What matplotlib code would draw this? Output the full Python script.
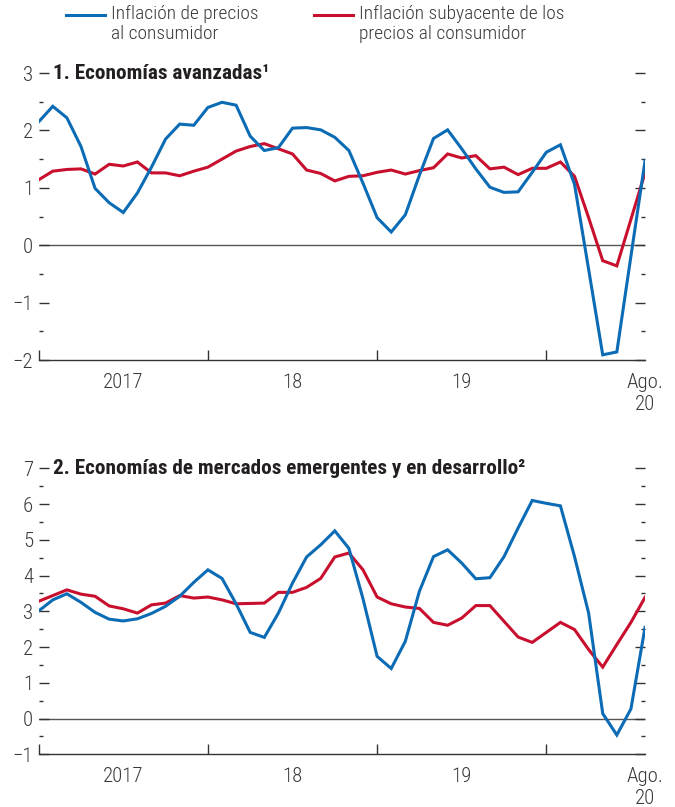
import matplotlib
matplotlib.use("Agg")
import matplotlib.pyplot as plt
from matplotlib.lines import Line2D
import numpy as np
import pandas as pd

plt.rcParams['font.family'] = ['Roboto Condensed', 'Archivo Narrow', 'Liberation Sans', 'DejaVu Sans']

months = pd.period_range('2017-01', '2020-08', freq='M')

# 1. advanced economies
ae_headline = [2.15, 2.42, 2.22, 1.72, 0.99, 0.74, 0.57, 0.91, 1.36, 1.85,
               2.11, 2.09, 2.40, 2.49, 2.44, 1.90, 1.65, 1.70, 2.04, 2.05,
               2.01, 1.88, 1.65, 1.08, 0.48, 0.23, 0.53, 1.22, 1.86, 2.01,
               1.68, 1.33, 1.01, 0.92, 0.93, 1.27, 1.62, 1.75, 1.06, -0.42,
               -1.91, -1.86, -0.19, 1.47]
ae_core = [1.14, 1.29, 1.32, 1.33, 1.24, 1.41, 1.38, 1.45, 1.26, 1.26,
           1.21, 1.29, 1.36, 1.50, 1.64, 1.72, 1.77, 1.68, 1.59, 1.31,
           1.25, 1.12, 1.20, 1.21, 1.27, 1.31, 1.24, 1.30, 1.35, 1.59,
           1.52, 1.56, 1.33, 1.36, 1.23, 1.34, 1.34, 1.45, 1.20, 0.48,
           -0.27, -0.36, 0.45, 1.26]

# 2. emerging market and developing economies
em_headline = [3.01, 3.32, 3.49, 3.25, 2.97, 2.78, 2.73, 2.79, 2.94, 3.14,
               3.42, 3.81, 4.16, 3.92, 3.21, 2.41, 2.27, 2.95, 3.79, 4.52,
               4.86, 5.25, 4.76, 3.35, 1.74, 1.40, 2.16, 3.56, 4.53, 4.72,
               4.35, 3.91, 3.94, 4.53, 5.33, 6.10, 6.02, 5.95, 4.53, 2.95,
               0.14, -0.46, 0.27, 2.55]
em_core = [3.28, 3.44, 3.60, 3.48, 3.42, 3.15, 3.07, 2.95, 3.18, 3.23,
           3.44, 3.37, 3.40, 3.32, 3.21, 3.22, 3.23, 3.53, 3.53, 3.67,
           3.92, 4.52, 4.63, 4.16, 3.40, 3.21, 3.12, 3.08, 2.69, 2.61,
           2.81, 3.16, 3.16, 2.72, 2.28, 2.13, 2.41, 2.69, 2.49, 1.93,
           1.44, 2.07, 2.69, 3.39]

titles = ['1. Economías avanzadas\u00b9',
          '2. Economías de mercados emergentes y en desarrollo\u00b2']
legend_labels = ['Inflación de precios\nal consumidor',
                 'Inflación subyacente de los\nprecios al consumidor']
year_labels = ['2017', '18', '19', 'Ago.\n20']
ylims = [(-2, 3), (-1, 7)]

BLUE = '#0b6cb5'
RED = '#c8102e'
TXT = '#3a3a3a'

x = np.arange(len(months))
year_starts = [i for i, p in enumerate(months) if p.month == 1]
label_pos = [i + 6 for i in year_starts[:3]] + [len(months) - 1]

fig = plt.figure(figsize=(6.75, 8.07), dpi=100)
ax1 = fig.add_axes([0.0573, 0.5539, 0.8983, 0.3556])
ax2 = fig.add_axes([0.0573, 0.0653, 0.8983, 0.3544])

for ax, head, core, title, ylim in [(ax1, ae_headline, ae_core, titles[0], ylims[0]),
                                    (ax2, em_headline, em_core, titles[1], ylims[1])]:
    ax.axhline(0, color='#555555', lw=1.0, zorder=1)
    ax.plot(x, core, color=RED, lw=2.2, zorder=3, solid_joinstyle='miter')
    ax.plot(x, head, color=BLUE, lw=2.2, zorder=4, solid_joinstyle='miter')
    ax.set_xlim(0, len(months) - 1)
    ax.set_ylim(*ylim)
    for s in ['top', 'left', 'right']:
        ax.spines[s].set_visible(False)
    ax.spines['bottom'].set_color('#333333')
    ax.spines['bottom'].set_linewidth(1.0)

    ax.set_yticks(np.arange(ylim[0], ylim[1] + 1, 1))
    ax.set_yticks(np.arange(ylim[0] + 0.5, ylim[1], 1.0), minor=True)
    ax.tick_params(axis='y', which='major', direction='in', length=7, width=1,
                   color='#333333', labelsize=15, labelcolor=TXT, pad=4,
                   left=True, right=True)
    ax.tick_params(axis='y', which='minor', direction='in', length=3, width=1,
                   color='#333333', left=True, right=True)

    ax.set_xticks(year_starts)
    ax.set_xticklabels([])
    ax.set_xticks(label_pos, minor=True)
    ax.set_xticklabels(year_labels, minor=True)
    ax.tick_params(axis='x', which='major', direction='in', length=7, width=1,
                   color='#333333')
    ax.tick_params(axis='x', which='minor', length=0, labelsize=15,
                   labelcolor=TXT, pad=9)
    for lab in ax.get_yticklabels() + ax.get_xticklabels(minor=True):
        lab.set_fontweight('light')

    ax.text(0.0236, 1.0, title, transform=ax.transAxes, ha='left', va='center',
            fontsize=15.3, fontweight='bold', color='#231f20')

# legend drawn at the top of the figure
leg_x = [(0.098, 0.156), (0.465, 0.523)]
for (x0, x1), col, lab in zip(leg_x, [BLUE, RED], legend_labels):
    fig.add_artist(Line2D([x0, x1], [0.981, 0.981], color=col, lw=2.2,
                          transform=fig.transFigure))
    fig.text(x1 + 0.009, 0.994, lab, ha='left', va='top', fontsize=14,
             fontweight='light', color=TXT, linespacing=1.12)

fig.savefig('out.png', dpi=100)
